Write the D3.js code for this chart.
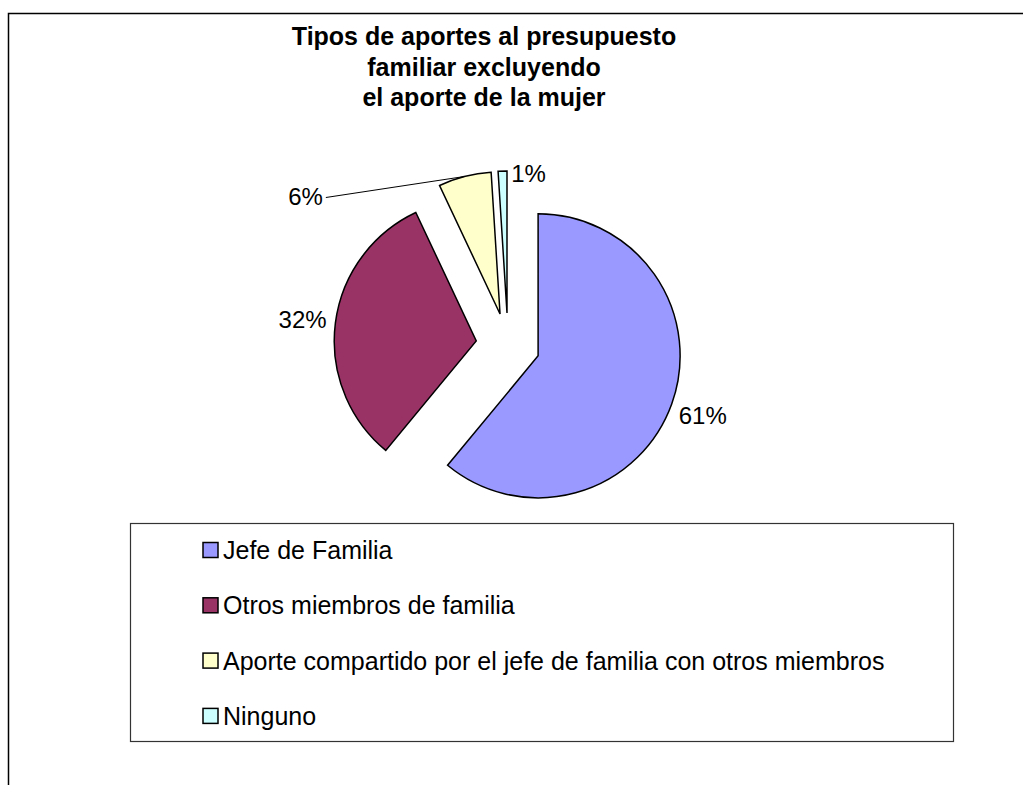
<!DOCTYPE html>
<html lang="es">
<head>
    <meta charset="UTF-8">
    <title>Tipos de aportes al presupuesto familiar</title>
    <script src="https://d3js.org/d3.v7.min.js"></script>
    <style>
        body { margin: 0; background: #fff; }
        text { font-family: "Liberation Sans", Arial, sans-serif; fill: #000; }
        .title { font-weight: bold; font-size: 25px; }
        .pct { font-size: 24px; }
        .legend text { font-size: 25px; }
        .slice { stroke: #000; stroke-width: 1.5px; }
    </style>
</head>
<body>
<svg id="chart" width="1023" height="785"></svg>
<script>
    // data
    var categories = ["Jefe de Familia", "Otros miembros de familia",
        "Aporte compartido por el jefe de familia con otros miembros", "Ninguno"];
    var values = [61, 32, 6, 1];
    var colors = ["#9999ff", "#993366", "#ffffcc", "#ccffff"];
    var titleLines = ["Tipos de aportes al presupuesto", "familiar excluyendo", "el aporte de la mujer"];

    var configuration = {
        "cx": 508,
        "cy": 345,
        "radius": 142,
        "explode": 32,
        "label_radius": 207,
        "title_x": 484,
        "title_y": 45,
        "title_line": 30.5,
        "legend_x": 130,
        "legend_y": 523,
        "legend_w": 823,
        "legend_h": 218,
        "legend_row": 55.3,
        "legend_first": 550,
        "legend_marker": 15,
        "legend_marker_x": 203
    };
    // hand-moved labels (small slices), shifted from their default spot
    var labelShift = [null, null, {dx: -151, dy: 52, leader: true}, {dx: 27, dy: 35, leader: false}];

    var svg = d3.select("#chart");

    // outer frame, cut at the right and bottom like the original
    svg.append("path")
        .attr("d", "M8.5,790 V13.5 H1030")
        .attr("fill", "none")
        .attr("stroke", "#000")
        .attr("stroke-width", 1.5);

    svg.append("text")
        .attr("class", "title")
        .attr("text-anchor", "middle")
        .selectAll("tspan")
        .data(titleLines)
        .enter()
        .append("tspan")
        .attr("x", configuration.title_x)
        .attr("y", function (d, i) { return configuration.title_y + i * configuration.title_line; })
        .text(function (d) { return d; });

    var pie = d3.pie().sort(null).value(function (d) { return d; });
    var arcs = pie(values);
    var arc = d3.arc().innerRadius(0).outerRadius(configuration.radius);

    function dirOf(a) {
        var m = (a.startAngle + a.endAngle) / 2;
        return [Math.sin(m), -Math.cos(m)];
    }

    var g = svg.append("g")
        .attr("transform", "translate(" + configuration.cx + "," + configuration.cy + ")");

    g.selectAll("path.slice")
        .data(arcs)
        .enter()
        .append("path")
        .attr("class", "slice")
        .attr("fill", function (d, i) { return colors[i]; })
        .attr("transform", function (d) {
            var v = dirOf(d);
            return "translate(" + v[0] * configuration.explode + "," + v[1] * configuration.explode + ")";
        })
        .attr("d", arc);

    // labels
    arcs.forEach(function (d, i) {
        var v = dirOf(d);
        var lx = v[0] * configuration.label_radius;
        var ly = v[1] * configuration.label_radius;
        var s = labelShift[i];
        if (s) { lx += s.dx; ly += s.dy; }
        var t = g.append("text")
            .attr("class", "pct")
            .attr("x", lx)
            .attr("y", ly)
            .attr("text-anchor", "middle")
            .attr("dominant-baseline", "central")
            .text(d.value + "%");
        if (s && s.leader) {
            var w = t.node().getComputedTextLength();
            var r = configuration.radius + configuration.explode;
            g.append("line")
                .attr("x1", lx + w / 2 + 3)
                .attr("y1", ly + 1)
                .attr("x2", v[0] * r)
                .attr("y2", v[1] * r)
                .attr("stroke", "#000")
                .attr("stroke-width", 1);
        }
    });

    // legend
    var legend = svg.append("g").attr("class", "legend");
    legend.append("rect")
        .attr("x", configuration.legend_x + 0.5)
        .attr("y", configuration.legend_y + 0.5)
        .attr("width", configuration.legend_w)
        .attr("height", configuration.legend_h)
        .attr("fill", "#fff")
        .attr("stroke", "#333")
        .attr("stroke-width", 1.2);

    var rows = legend.selectAll("g.row")
        .data(categories)
        .enter()
        .append("g")
        .attr("class", "row")
        .attr("transform", function (d, i) {
            return "translate(0," + (configuration.legend_first + i * configuration.legend_row) + ")";
        });
    rows.append("rect")
        .attr("x", configuration.legend_marker_x)
        .attr("y", -configuration.legend_marker / 2)
        .attr("width", configuration.legend_marker)
        .attr("height", configuration.legend_marker)
        .attr("fill", function (d, i) { return colors[i]; })
        .attr("stroke", "#000")
        .attr("stroke-width", 1.5);
    rows.append("text")
        .attr("x", configuration.legend_marker_x + configuration.legend_marker + 5)
        .attr("y", 0)
        .attr("dominant-baseline", "central")
        .text(function (d) { return d; });
</script>
</body>
</html>
